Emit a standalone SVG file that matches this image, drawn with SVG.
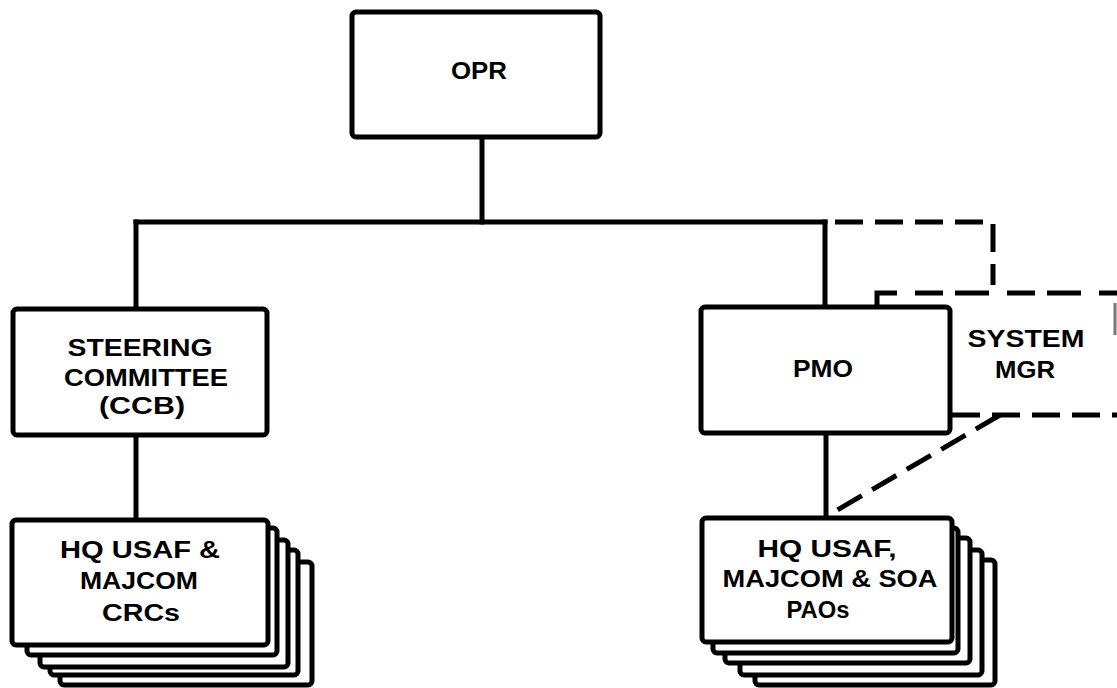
<svg xmlns="http://www.w3.org/2000/svg" width="1117" height="688" viewBox="0 0 1117 688">
<style>
.box{fill:#fff;stroke:#000;stroke-width:5;stroke-linejoin:round}
.ln{fill:none;stroke:#000;stroke-width:5;stroke-linecap:square}
.dash{fill:none;stroke:#000;stroke-width:5;stroke-dasharray:28 12}
.t{font-family:"Liberation Sans",Arial,sans-serif;font-weight:bold;font-size:23px;fill:#000}
</style>
<rect width="1117" height="688" fill="#fff"/>
<g id="connectors">
<line class="ln" x1="482" y1="137" x2="482" y2="222"/>
<line class="ln" x1="136" y1="222" x2="825" y2="222"/>
<line class="ln" x1="136" y1="222" x2="136" y2="309"/>
<line class="ln" x1="825" y1="222" x2="825" y2="307"/>
<line class="ln" x1="136" y1="435" x2="136" y2="520"/>
<line class="ln" x1="826" y1="433" x2="826" y2="518"/>
<path class="dash" d="M835,222 H993 V285"/>
<path class="dash" d="M877,307 V293 H1117" style="stroke-dasharray:34 18 28 12"/>
<path class="dash" d="M952,415 H1117"/>
<path class="dash" d="M1000,415 L827,516"/>
<line x1="1115" y1="303" x2="1115" y2="335" stroke="#777" stroke-width="3"/>
</g>
<g id="opr">
<rect class="box" x="352" y="12" width="248" height="125" rx="4"/>
<text class="t" x="479" y="79" text-anchor="middle" textLength="56" lengthAdjust="spacingAndGlyphs">OPR</text>
</g>
<g id="steering">
<rect class="box" x="13" y="309" width="254" height="126" rx="4"/>
<text class="t" x="140" y="356" text-anchor="middle" textLength="145" lengthAdjust="spacingAndGlyphs">STEERING</text>
<text class="t" x="146" y="386" text-anchor="middle" textLength="164" lengthAdjust="spacingAndGlyphs">COMMITTEE</text>
<text class="t" x="142" y="414" text-anchor="middle" textLength="86" lengthAdjust="spacingAndGlyphs">(CCB)</text>
</g>
<g id="pmo">
<rect class="box" x="701" y="307" width="249" height="126" rx="4"/>
<text class="t" x="823" y="377" text-anchor="middle" textLength="60" lengthAdjust="spacingAndGlyphs">PMO</text>
</g>
<g id="system-mgr">
<text class="t" x="1026" y="347" text-anchor="middle" textLength="117" lengthAdjust="spacingAndGlyphs">SYSTEM</text>
<text class="t" x="1025" y="378" text-anchor="middle" textLength="60" lengthAdjust="spacingAndGlyphs">MGR</text>
</g>
<g id="crcs">
<rect class="box" x="60" y="562" width="252" height="123" rx="4"/>
<rect class="box" x="50" y="550" width="248" height="125" rx="4"/>
<rect class="box" x="40" y="540" width="248" height="127" rx="4"/>
<rect class="box" x="27" y="528" width="250" height="127" rx="4"/>
<rect class="box" x="12" y="520" width="256" height="125" rx="4"/>
<text class="t" x="140" y="558" text-anchor="middle" textLength="160" lengthAdjust="spacingAndGlyphs">HQ USAF &amp;</text>
<text class="t" x="139" y="589" text-anchor="middle" textLength="118" lengthAdjust="spacingAndGlyphs">MAJCOM</text>
<text class="t" x="141" y="621" text-anchor="middle" textLength="78" lengthAdjust="spacingAndGlyphs">CRCs</text>
</g>
<g id="paos">
<rect class="box" x="755" y="560" width="240" height="125" rx="4"/>
<rect class="box" x="740" y="550" width="242" height="125" rx="4"/>
<rect class="box" x="725" y="538" width="245" height="125" rx="4"/>
<rect class="box" x="713" y="528" width="245" height="125" rx="4"/>
<rect class="box" x="702" y="518" width="250" height="124" rx="4"/>
<text class="t" x="827" y="557" text-anchor="middle" textLength="139" lengthAdjust="spacingAndGlyphs">HQ USAF,</text>
<text class="t" x="830" y="587" text-anchor="middle" textLength="215" lengthAdjust="spacingAndGlyphs">MAJCOM &amp; SOA</text>
<text class="t" x="818" y="618" text-anchor="middle" textLength="63" lengthAdjust="spacingAndGlyphs">PAOs</text>
</g>
</svg>
